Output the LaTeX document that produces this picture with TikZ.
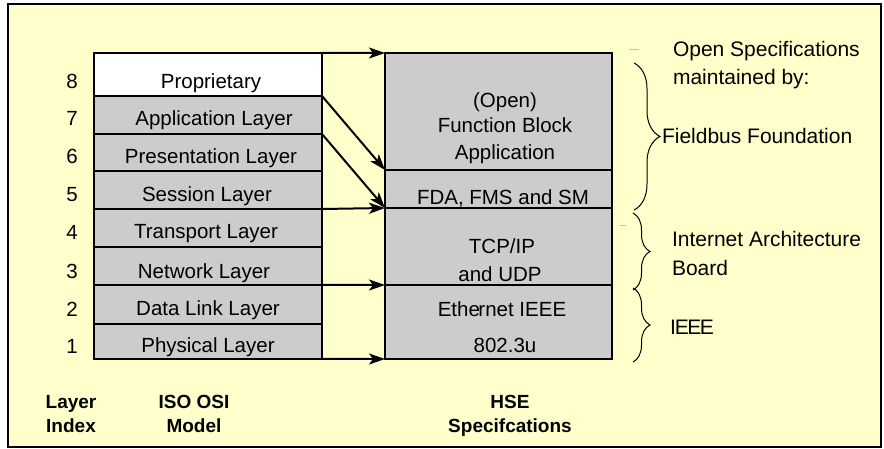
\documentclass[tikz,border=0pt]{standalone}
\usepackage{fontspec}
\setmainfont{Liberation Sans}
\usetikzlibrary{arrows.meta,decorations.pathreplacing}
\definecolor{paper}{HTML}{FFFFCC}
\definecolor{layergray}{HTML}{CCCCCC}
\begin{document}
\begin{tikzpicture}[x=1bp,y=-1bp,
  every node/.style={inner sep=0pt, outer sep=0pt},
  txt/.style={anchor=base, font=\fontsize{20.5bp}{24bp}\selectfont},
  side/.style={anchor=base west, font=\fontsize{21bp}{24bp}\selectfont},
  head/.style={anchor=base, font=\bfseries\fontsize{19bp}{22bp}\selectfont},
  osirow/.style={draw=black, line width=2bp, fill=layergray, minimum width=228bp, minimum height=#1},
  hserow/.style={draw=black, line width=2bp, fill=layergray, minimum width=227bp, minimum height=#1},
  link/.style={line width=2bp, -{Stealth[length=16bp,width=11bp,inset=4bp]}},
  bracket/.style={decorate, decoration={brace, amplitude=#1}, line width=1bp},
]
\useasboundingbox (0,0) rectangle (884,449);
% frame
\draw[fill=paper, line width=1.6bp] (8,4) rectangle (881,447);

% ISO OSI layer stack
\node[osirow=43bp, fill=white] (r8) at (208,74.5) {};
\node[osirow=38bp] (r7) at (208,115) {};
\node[osirow=37bp] (r6) at (208,152.5) {};
\node[osirow=38bp] (r5) at (208,190) {};
\node[osirow=38bp] (r4) at (208,228) {};
\node[osirow=38bp] (r3) at (208,266) {};
\node[osirow=39bp] (r2) at (208,304.5) {};
\node[osirow=35bp] (r1) at (208,341.5) {};

\node[txt] (t8) at (211,89) {Proprietary};
\node[txt] (t7) at (214,126) {Application Layer};
\node[txt] (t6) at (211,164) {Presentation Layer};
\node[txt] (t5) at (207,202) {Session Layer};
\node[txt] (t4) at (206,239) {Transport Layer};
\node[txt] (t3) at (204,279) {Network Layer};
\node[txt] (t2) at (208,316) {Data Link Layer};
\node[txt] (t1) at (208,353) {Physical Layer};

% layer index
\node[txt] (n8) at (72,89) {8};
\node[txt] (n7) at (72,126) {7};
\node[txt] (n6) at (72,164) {6};
\node[txt] (n5) at (72,202) {5};
\node[txt] (n4) at (72,240) {4};
\node[txt] (n3) at (72,279) {3};
\node[txt] (n2) at (72,317) {2};
\node[txt] (n1) at (72,354) {1};

% HSE stack
\node[hserow=117bp] (fba) at (498.5,111.5) {};
\node[hserow=38bp] (fda) at (498.5,189) {};
\node[hserow=77bp] (tcp) at (498.5,246.5) {};
\node[hserow=74bp] (eth) at (498.5,322) {};

\node[txt] (fba1) at (505,108) {(Open)};
\node[txt] (fba2) at (505,133) {Function Block};
\node[txt] (fba3) at (505,160) {Application};
\node[txt] (fdat) at (503,205) {FDA, FMS and SM};
\node[txt] (tcp1) at (502,254) {TCP/IP};
\node[txt] (tcp2) at (500,282) {and UDP};
\node[txt] (eth1) at (502,317) {Ethe\kern-1.5bp rnet IEEE};
\node[txt] (eth2) at (505,353) {802.3u};

% mapping arrows
\draw[link] (r8.north east) -- (fba.north west);
\draw[link] (r7.north east) -- (fba.south west);
\draw[link] (r6.north east) -- (fda.south west);
\draw[link] (r5.south east) -- (fda.south west);
\draw[link] (r3.south east) -- (tcp.south west);
\draw[link] (r1.south east) -- (eth.south west);

% maintainers
\node[side] (os1) at (673,57) {Open Specifications};
\node[side] (os2) at (673,85) {maintained by:};
\draw[bracket=26bp] (634,63) -- (634,210);
\node[side] (ff) at (662,144) {Fieldbus Foundation};
\draw[bracket=17bp] (633,213) -- (633,290);
\node[side] (iab1) at (672,247) {Internet Architecture};
\node[side] (iab2) at (672,276) {Board};
\draw[bracket=17bp] (633,288) -- (633,362);
\node[side] (ieee) at (670,335) {I\kern-1bp E\kern-1.5bp E\kern-1.5bp E};

% stray marks
\draw[gray!50, line width=0.8bp] (629,49) -- (639,49);
\draw[gray!50, line width=0.8bp] (620,225) -- (626,225);

% column headings
\node[head] (h1a) at (71,408) {Layer};
\node[head] (h1b) at (71,432) {Index};
\node[head] (h2a) at (194,408) {ISO OSI};
\node[head] (h2b) at (194,432) {Model};
\node[head] (h3a) at (510,408) {HSE};
\node[head] (h3b) at (510,432) {Specifcations};
\end{tikzpicture}
\end{document}
